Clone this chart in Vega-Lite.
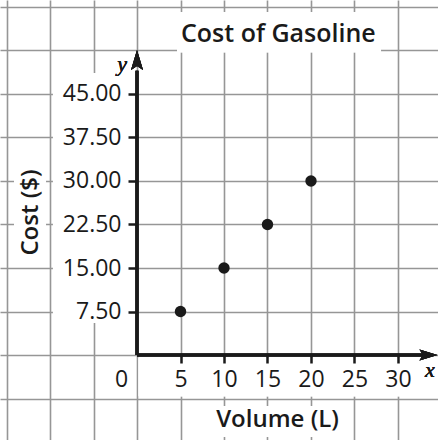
{
  "$schema": "https://vega.github.io/schema/vega-lite/v6.json",
  "width": 438,
  "height": 440,
  "padding": 0,
  "autosize": {"type": "none"},
  "background": "white",
  "view": {"stroke": null},
  "title": {
    "text": "Cost of Gasoline",
    "anchor": "start",
    "frame": "group",
    "orient": "top",
    "dx": 181,
    "dy": 25,
    "offset": -42,
    "baseline": "alphabetic",
    "font": "Open Sans",
    "fontSize": 25,
    "fontWeight": 600,
    "color": "#1a1a1a"
  },
  "data": {
    "values": [
      {"volume": 5, "cost": 7.5},
      {"volume": 10, "cost": 15},
      {"volume": 15, "cost": 22.5},
      {"volume": 20, "cost": 30}
    ]
  },
  "resolve": {"axis": {"x": "independent", "y": "independent"}},
  "layer": [
    {
      "mark": {"type": "point", "opacity": 0},
      "encoding": {
        "x": {
          "field": "volume",
          "type": "quantitative",
          "scale": {"domain": [-15.75, 34.6], "nice": false, "zero": false},
          "axis": {
            "orient": "top",
            "values": [-15, -10, -5, 0, 5, 10, 15, 20, 25, 30],
            "grid": true,
            "gridColor": "#969696",
            "gridWidth": 1.6,
            "domain": false,
            "ticks": false,
            "labels": false,
            "title": null,
            "zindex": 0
          }
        },
        "y": {
          "field": "cost",
          "type": "quantitative",
          "scale": {"domain": [-14.65, 61.2], "nice": false, "zero": false},
          "axis": {
            "orient": "right",
            "values": [-7.5, 0, 7.5, 15, 22.5, 30, 37.5, 45, 52.5, 60],
            "grid": true,
            "gridColor": "#969696",
            "gridWidth": 1.6,
            "domain": false,
            "ticks": false,
            "labels": false,
            "title": null,
            "zindex": 0
          }
        }
      }
    },
    {
      "mark": {"type": "rect", "color": "white"},
      "encoding": {
        "x": {"datum": 4.6, "type": "quantitative", "axis": null},
        "x2": {"datum": 28.05},
        "y": {"datum": 52.2, "type": "quantitative", "axis": null},
        "y2": {"datum": 59.1}
      }
    },
    {
      "mark": {"type": "rect", "color": "white"},
      "encoding": {
        "x": {"datum": -9.66, "type": "quantitative", "axis": null},
        "x2": {"datum": -0.3},
        "y": {"datum": 5.5, "type": "quantitative", "axis": null},
        "y2": {"datum": 48.6}
      }
    },
    {
      "mark": {"type": "rect", "color": "white"},
      "encoding": {
        "x": {"datum": -14.14, "type": "quantitative", "axis": null},
        "x2": {"datum": -10.46},
        "y": {"datum": 16.0, "type": "quantitative", "axis": null},
        "y2": {"datum": 33.1}
      }
    },
    {
      "mark": {"type": "rect", "color": "white"},
      "encoding": {
        "x": {"datum": 0.2, "type": "quantitative", "axis": null},
        "x2": {"datum": 35},
        "y": {"datum": -7.1, "type": "quantitative", "axis": null},
        "y2": {"datum": -0.5}
      }
    },
    {
      "mark": {"type": "rect", "color": "white"},
      "encoding": {
        "x": {"datum": 7.2, "type": "quantitative", "axis": null},
        "x2": {"datum": 24.4},
        "y": {"datum": -14.1, "type": "quantitative", "axis": null},
        "y2": {"datum": -8.8}
      }
    },
    {
      "mark": {"type": "rule", "color": "#1a1a1a", "strokeWidth": 3},
      "encoding": {
        "x": {"datum": 0, "type": "quantitative", "axis": null},
        "x2": {"datum": 33},
        "y": {"datum": 0, "type": "quantitative", "axis": null}
      }
    },
    {
      "mark": {"type": "rule", "color": "#1a1a1a", "strokeWidth": 3},
      "encoding": {
        "x": {"datum": 0, "type": "quantitative", "axis": null},
        "y": {"datum": 0, "type": "quantitative", "axis": null},
        "y2": {"datum": 49}
      }
    },
    {
      "mark": {"type": "point", "filled": true, "opacity": 1, "color": "#1a1a1a", "shape": "M0,-1L0.6,1L0,0.6L-0.6,1Z", "size": 400, "strokeWidth": 0},
      "encoding": {
        "x": {"datum": 0, "type": "quantitative", "axis": null},
        "y": {"datum": 50.86, "type": "quantitative", "axis": null}
      }
    },
    {
      "mark": {"type": "point", "filled": true, "opacity": 1, "color": "#1a1a1a", "shape": "M1,0L-1,0.6L-0.6,0L-1,-0.6Z", "size": 324, "strokeWidth": 0},
      "encoding": {
        "x": {"datum": 33.5, "type": "quantitative", "axis": null},
        "y": {"datum": 0, "type": "quantitative", "axis": null}
      }
    },
    {
      "mark": {"type": "text", "text": "y", "font": "Liberation Serif", "fontStyle": "italic", "fontSize": 22, "align": "center", "baseline": "alphabetic", "color": "#1a1a1a"},
      "encoding": {
        "x": {"datum": -1.72, "type": "quantitative", "axis": null},
        "y": {"datum": 48.97, "type": "quantitative", "axis": null}
      }
    },
    {
      "mark": {"type": "text", "text": "x", "font": "Liberation Serif", "fontStyle": "italic", "fontSize": 22, "align": "center", "baseline": "alphabetic", "color": "#1a1a1a"},
      "encoding": {
        "x": {"datum": 33.68, "type": "quantitative", "axis": null},
        "y": {"datum": -3.79, "type": "quantitative", "axis": null}
      }
    },
    {
      "mark": {"type": "circle", "size": 130, "opacity": 1, "color": "#1a1a1a"},
      "encoding": {
        "x": {"field": "volume", "type": "quantitative", "axis": null},
        "y": {"field": "cost", "type": "quantitative", "axis": null}
      }
    },
    {
      "mark": {"type": "point", "opacity": 0},
      "encoding": {
        "x": {
          "field": "volume",
          "type": "quantitative",
          "axis": {
            "orient": "bottom",
            "offset": -85,
            "values": [0, 5, 10, 15, 20, 25, 30],
            "grid": false,
            "domain": false,
            "ticks": true,
            "tickSize": 8,
            "tickWidth": 2.5,
            "tickColor": "#1a1a1a",
            "tickOpacity": {"condition": {"test": "datum.value === 0", "value": 0}, "value": 1},
            "labelFont": "Open Sans",
            "labelFontSize": 23,
            "labelColor": "#1a1a1a",
            "labelPadding": 5,
            "labelFlush": false,
            "labelOverlap": false,
            "labelOffset": {"condition": {"test": "datum.value === 0", "value": -16}, "value": 0},
            "title": "Volume (L)",
            "titleFont": "Open Sans",
            "titleFontSize": 24,
            "titleFontWeight": 600,
            "titleColor": "#1a1a1a",
            "titleX": 277,
            "titleY": 71,
            "titleAlign": "center",
            "titleBaseline": "alphabetic",
            "zindex": 1
          }
        },
        "y": {
          "field": "cost",
          "type": "quantitative",
          "axis": {
            "orient": "left",
            "offset": -137,
            "values": [7.5, 15, 22.5, 30, 37.5, 45],
            "format": ".2f",
            "grid": false,
            "domain": false,
            "ticks": true,
            "tickSize": 9,
            "tickWidth": 2.5,
            "tickColor": "#1a1a1a",
            "labelFont": "Open Sans",
            "labelFontSize": 23,
            "labelColor": "#1a1a1a",
            "labelPadding": 7,
            "labelFlush": false,
            "labelOverlap": false,
            "title": "Cost ($)",
            "titleFont": "Open Sans",
            "titleFontSize": 24,
            "titleFontWeight": 600,
            "titleColor": "#1a1a1a",
            "titleX": -100,
            "titleY": 212,
            "titleAngle": 270,
            "titleAlign": "center",
            "titleBaseline": "alphabetic",
            "zindex": 1
          }
        }
      }
    }
  ]
}
